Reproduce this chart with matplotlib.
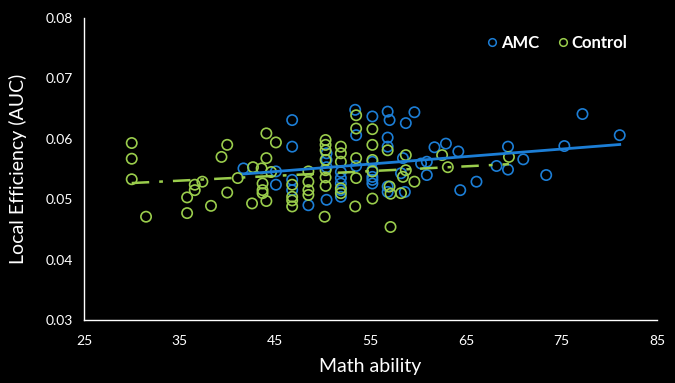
"""Scatter: local efficiency vs math ability, AMC vs Control, with trend lines."""
import numpy as np
import matplotlib
matplotlib.use("Agg")
import matplotlib.pyplot as plt
from matplotlib.lines import Line2D

plt.rcParams.update({
    "font.family": ["Lato", "DejaVu Sans"],
    "axes.unicode_minus": False,
})

# ---- data ----
amc_x = [41.7, 45.1, 45.1, 46.8, 46.8, 46.8, 46.8, 48.5,
         50.4, 50.4, 50.4, 50.4, 51.9, 51.9, 51.9, 51.9, 51.9,
         53.4, 53.5, 53.5, 55.2, 55.2, 55.2, 55.2, 55.2, 55.2,
         56.8, 57.0, 56.8, 56.8, 56.8, 56.8,
         58.7, 58.4, 58.2, 58.6, 59.6, 60.3, 60.9, 60.9,
         61.7, 62.9, 64.2, 64.4, 66.1, 68.2, 69.4, 69.4,
         71.0, 73.4, 75.3, 77.2, 81.1]
amc_y = [0.0551, 0.0546, 0.0524, 0.0631, 0.0587, 0.0532, 0.0515, 0.0490,
         0.0576, 0.0565, 0.0553, 0.0499, 0.0545, 0.0535, 0.0526, 0.0504, 0.0515,
         0.0648, 0.0606, 0.0555, 0.0637, 0.0562, 0.0548, 0.0537, 0.0532, 0.0526,
         0.0645, 0.0631, 0.0602, 0.0587, 0.0521, 0.0512,
         0.0626, 0.0568, 0.0543, 0.0512, 0.0644, 0.0559, 0.0562, 0.0540,
         0.0586, 0.0592, 0.0579, 0.0515, 0.0529, 0.0555, 0.0587, 0.0549,
         0.0566, 0.0540, 0.0588, 0.0641, 0.0606]

ctrl_x = [30, 30, 30, 31.5, 35.8, 35.8, 36.6, 36.6, 37.4, 38.3,
          39.4, 40.0, 40.0, 41.1, 42.6, 42.7, 43.7, 43.7, 43.7, 43.6,
          44.1, 44.1, 44.1, 44.6, 45.1,
          46.8, 46.8, 46.8, 46.8, 48.5, 48.5, 48.5, 48.5,
          50.3, 50.3, 50.3, 50.3, 50.3, 50.3, 50.3, 50.2,
          51.9, 51.9, 51.9, 51.9, 51.9,
          53.5, 53.5, 53.5, 53.5, 53.4,
          55.2, 55.2, 55.2, 55.2, 55.2,
          56.8, 57.0, 57.1, 57.1, 58.4, 58.7, 58.7, 58.2, 59.6,
          62.5, 63.1, 69.5]
ctrl_y = [0.0593, 0.0567, 0.0533, 0.0471, 0.0503, 0.0477, 0.0524, 0.0515, 0.0529, 0.0489,
          0.0570, 0.0590, 0.0511, 0.0535, 0.0493, 0.0553, 0.0526, 0.0515, 0.0510, 0.0551,
          0.0609, 0.0568, 0.0497, 0.0545, 0.0594,
          0.0524, 0.0504, 0.0498, 0.0488, 0.0546, 0.0529, 0.0515, 0.0507,
          0.0598, 0.0590, 0.0581, 0.0565, 0.0548, 0.0536, 0.0522, 0.0471,
          0.0587, 0.0576, 0.0562, 0.0518, 0.0510,
          0.0639, 0.0617, 0.0568, 0.0535, 0.0488,
          0.0616, 0.0590, 0.0565, 0.0546, 0.0501,
          0.0581, 0.0521, 0.0509, 0.0454, 0.0537, 0.0573, 0.0548, 0.0510, 0.0529,
          0.0573, 0.0553, 0.0570]

# linear trend lines (intercept, slope)
amc_fit = (0.0490, 0.000124)
ctrl_fit = (0.0503, 0.0000791)

blue = "#1c7ed6"
green = "#9acd4c"

fig = plt.figure(figsize=(6.75, 3.83), dpi=100, facecolor="black")
ax = fig.add_axes([0.1244, 0.1645, 0.8489, 0.7885], facecolor="black")

ax.scatter(amc_x, amc_y, s=55, facecolors="none", edgecolors=blue,
           linewidths=1.2, zorder=2)
ax.scatter(ctrl_x, ctrl_y, s=55, facecolors="none", edgecolors=green,
           linewidths=1.2, zorder=2)

xa = np.array([min(amc_x), max(amc_x)])
ax.plot(xa, amc_fit[0] + amc_fit[1] * xa, color=blue, lw=2.0, zorder=3)
xc = np.array([min(ctrl_x), max(ctrl_x)])
ax.plot(xc, ctrl_fit[0] + ctrl_fit[1] * xc, color=green, lw=1.8,
        dashes=(7, 4, 1.5, 4), zorder=4)

ax.set_xlim(25, 85)
ax.set_ylim(0.03, 0.08)
ax.set_xticks(np.arange(25, 86, 10))
ax.set_yticks(np.arange(0.03, 0.0801, 0.01))
ax.set_yticklabels([f"{v:.2f}" for v in np.arange(0.03, 0.0801, 0.01)])
ax.tick_params(colors="white", length=0, labelsize=10, pad=8)
ax.tick_params(axis="x", pad=11)
for s in ("top", "right"):
    ax.spines[s].set_visible(False)
for s in ("left", "bottom"):
    ax.spines[s].set_color("white")
    ax.spines[s].set_linewidth(1.0)

ax.set_xlabel("Math ability", color="white", fontsize=14, labelpad=8)
ax.set_ylabel("Local Efficiency (AUC)", color="white", fontsize=14, labelpad=13)

handles = [Line2D([], [], ls="none", marker="o", ms=5.5, mfc="none", mec=blue, mew=1.1),
           Line2D([], [], ls="none", marker="o", ms=5.5, mfc="none", mec=green, mew=1.1)]
leg = ax.legend(handles, ["AMC", "Control"], loc="upper right", ncol=2,
                frameon=False, bbox_to_anchor=(0.975, 0.995),
                handletextpad=0.05, columnspacing=0.9, handlelength=1.0,
                prop={"weight": "bold", "size": 12})
for t in leg.get_texts():
    t.set_color("white")

fig.savefig("out.png", dpi=100, facecolor="black")
plt.close(fig)
